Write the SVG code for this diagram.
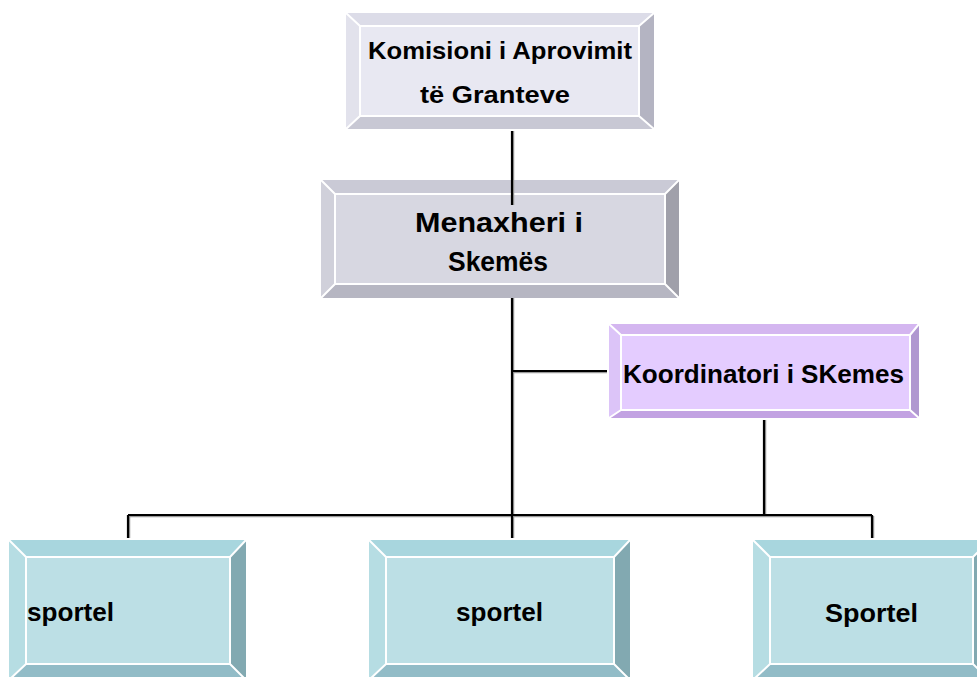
<svg xmlns="http://www.w3.org/2000/svg" width="977" height="677" viewBox="0 0 977 677">
<style>
text{font-family:"Liberation Sans","DejaVu Sans",sans-serif;font-weight:bold;fill:#000;}
.t1{font-size:24px;}
.t2{font-size:28px;}
.t3{font-size:26px;}
.t4{font-size:26px;}
.sep{stroke:#fff;stroke-width:2;fill:none;}
.ln{stroke:#000;stroke-width:2.2;fill:none;}
.sh{stroke:#9a9a9a;stroke-width:1.5;fill:none;}
</style>
<rect width="977" height="677" fill="#fff"/>

<g id="komisioni">
<polygon points="346,13 654,13 639,26 360,26" fill="#dcdce8"/>
<polygon points="346,13 360,26 360,116 346,129" fill="#e2e2ec"/>
<polygon points="654,13 654,129 639,116 639,26" fill="#b4b4c2"/>
<polygon points="346,129 360,116 639,116 654,129" fill="#c8c8d4"/>
<rect x="360" y="26" width="279" height="90" fill="#e8e8f2"/>
<path class="sep" d="M360,26H639V116H360Z M346,13L360,26 M654,13L639,26 M346,129L360,116 M654,129L639,116"/>
<text class="t1" x="500" y="59" text-anchor="middle" textLength="264" lengthAdjust="spacingAndGlyphs">Komisioni i Aprovimit</text>
<text class="t1" x="495" y="103" text-anchor="middle" textLength="150" lengthAdjust="spacingAndGlyphs">të Granteve</text>
</g>

<g id="menaxheri">
<polygon points="321,180 679,180 665,194 335,194" fill="#cacad6"/>
<polygon points="321,180 335,194 335,284 321,298" fill="#d0d0da"/>
<polygon points="679,180 679,298 665,284 665,194" fill="#a0a0aa"/>
<polygon points="321,298 335,284 665,284 679,298" fill="#b6b6c2"/>
<rect x="335" y="194" width="330" height="90" fill="#d7d7e1"/>
<path class="sep" d="M335,194H665V284H335Z M321,180L335,194 M679,180L665,194 M321,298L335,284 M679,298L665,284"/>
<text class="t2" x="499" y="232" text-anchor="middle" textLength="168" lengthAdjust="spacingAndGlyphs">Menaxheri i</text>
<text class="t2" x="498" y="271" text-anchor="middle" textLength="100" lengthAdjust="spacingAndGlyphs">Skemës</text>
</g>

<g id="koordinatori">
<polygon points="609,324 919,324 910,335 621,335" fill="#d4b6f0"/>
<polygon points="609,324 621,335 621,410 609,418" fill="#dcc4f8"/>
<polygon points="919,324 919,418 910,410 910,335" fill="#b098d0"/>
<polygon points="609,418 621,410 910,410 919,418" fill="#c2a2e2"/>
<rect x="621" y="335" width="289" height="75" fill="#e4ccff"/>
<path class="sep" d="M621,335H910V410H621Z M609,324L621,335 M919,324L910,335 M609,418L621,410 M919,418L910,410"/>
<text class="t3" x="763.5" y="383" text-anchor="middle" textLength="281" lengthAdjust="spacingAndGlyphs">Koordinatori i SKemes</text>
</g>

<g id="sportel1">
<polygon points="9,540 246,540 230,557 26,557" fill="#a8d6de"/>
<polygon points="9,540 26,557 26,664 9,680" fill="#b6dde3"/>
<polygon points="246,540 246,680 230,664 230,557" fill="#82a9b1"/>
<polygon points="9,680 26,664 230,664 246,680" fill="#92bcc7"/>
<rect x="26" y="557" width="204" height="107" fill="#bcdfe5"/>
<path class="sep" d="M26,557H230V664H26Z M9,540L26,557 M246,540L230,557 M9,680L26,664 M246,680L230,664"/>
<text class="t4" x="27" y="621" textLength="87" lengthAdjust="spacingAndGlyphs">sportel</text>
</g>

<g id="sportel2">
<polygon points="369,540 630,540 614,557 386,557" fill="#a8d6de"/>
<polygon points="369,540 386,557 386,664 369,680" fill="#b6dde3"/>
<polygon points="630,540 630,680 614,664 614,557" fill="#82a9b1"/>
<polygon points="369,680 386,664 614,664 630,680" fill="#92bcc7"/>
<rect x="386" y="557" width="228" height="107" fill="#bcdfe5"/>
<path class="sep" d="M386,557H614V664H386Z M369,540L386,557 M630,540L614,557 M369,680L386,664 M630,680L614,664"/>
<text class="t4" x="456" y="621" textLength="87" lengthAdjust="spacingAndGlyphs">sportel</text>
</g>

<g id="sportel3">
<polygon points="753,540 990,540 973,557 770,557" fill="#a8d6de"/>
<polygon points="753,540 770,557 770,664 753,680" fill="#b6dde3"/>
<polygon points="990,540 990,680 973,664 973,557" fill="#82a9b1"/>
<polygon points="753,680 770,664 973,664 990,680" fill="#92bcc7"/>
<rect x="770" y="557" width="203" height="107" fill="#bcdfe5"/>
<path class="sep" d="M770,557H973V664H770Z M753,540L770,557 M990,540L973,557 M753,680L770,664 M990,680L973,664"/>
<text class="t4" x="825" y="622" textLength="93" lengthAdjust="spacingAndGlyphs">Sportel</text>
</g>

<g id="connectors">
<path class="sh" d="M513.5,131V205 M513.5,298V538 M513,372.5H607 M765.5,420V515 M129.5,516.5H873 M129.5,516V538 M873.5,516V538"/>
<path class="ln" d="M512,131V205 M512,298V538 M512,371H607 M764,420V515 M128,515H872 M128,515V538 M872,515V538"/>
</g>
</svg>
